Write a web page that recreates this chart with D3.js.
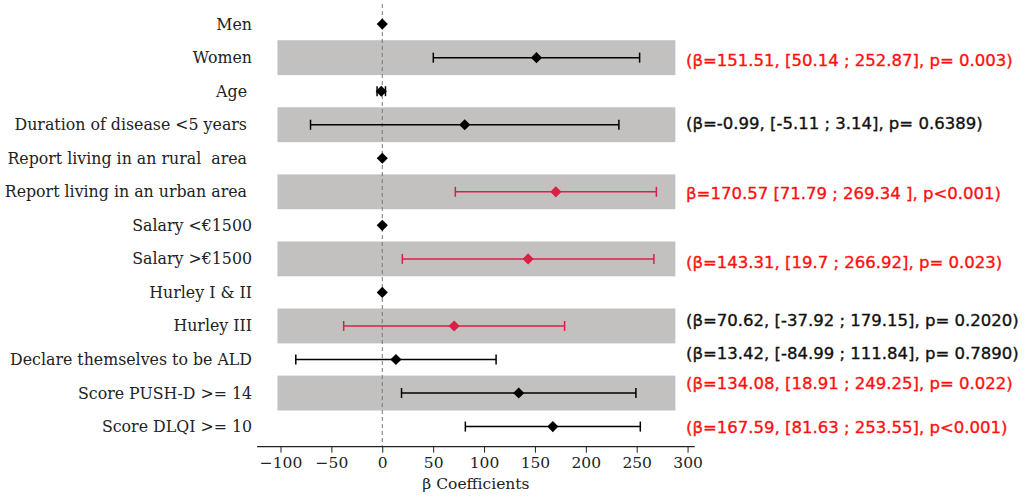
<!DOCTYPE html>
<html><head><meta charset="utf-8">
<script src="https://cdn.jsdelivr.net/npm/d3@7/dist/d3.min.js"></script>
<style>body{margin:0;background:#fff}svg text{white-space:pre}</style>
</head><body>
<svg id="c" width="1024" height="499"></svg>
<script>
const categories = ["Men","Women","Age ","Duration of disease <5 years ","Report living in an rural  area ","Report living in an urban area ","Salary <€1500","Salary >€1500","Hurley I & II","Hurley III","Declare themselves to be ALD","Score PUSH-D >= 14","Score DLQI >= 10"];
const beta  = [0, 151.51, -0.99, 81, 0, 170.57, 0, 143.31, 0, 70.62, 13.42, 134.08, 167.59];
const lower = [null, 50.14, -5.11, -70.5, null, 71.79, null, 19.7, null, -37.92, -84.99, 18.91, 81.63];
const upper = [null, 252.87, 3.14, 232.5, null, 269.34, null, 266.92, null, 179.15, 111.84, 249.25, 253.55];
const highlight = [false,false,false,false,false,true,false,true,false,true,false,false,false];
const bandRows = [1,3,5,7,9,11];
const xTicks = [-100,-50,0,50,100,150,200,250,300];
const annotText = ["(β=151.51, [50.14 ; 252.87], p= 0.003)","(β=-0.99, [-5.11 ; 3.14], p= 0.6389)","β=170.57 [71.79 ; 269.34 ], p<0.001)","(β=143.31, [19.7 ; 266.92], p= 0.023)","(β=70.62, [-37.92 ; 179.15], p= 0.2020)","(β=13.42, [-84.99 ; 111.84], p= 0.7890)","(β=134.08, [18.91 ; 249.25], p= 0.022)","(β=167.59, [81.63 ; 253.55], p<0.001)"];
const annotRow = [1.08, 2.95, 5.03, 7.1, 8.82, 9.81, 10.7, 12.01];
const annotRed = [true,false,true,true,false,false,true,true];

const svg = d3.select("#c");
const x = d3.scaleLinear().domain([-123, 307]).range([257.1, 694.7]);
const y = d3.scaleLinear().domain([-0.6, 12.6]).range([4, 446.7]);
const serif = "DejaVu Serif";

// bands
svg.selectAll("rect.band").data(bandRows).join("rect")
  .attr("x", x(-103)).attr("width", x(288)-x(-103))
  .attr("y", d=>y(d-0.52)).attr("height", d=>y(d+0.52)-y(d-0.52))
  .attr("fill", "#c2c1bf");

// zero line
svg.append("line").attr("x1", x(0)).attr("x2", x(0)).attr("y1", y(-0.6)).attr("y2", y(12.6))
  .attr("stroke", "#777").attr("stroke-width", 1).attr("stroke-dasharray", "4,3");

// error bars
const rows = categories.map((c,i)=>({i, b:beta[i], lo:lower[i], hi:upper[i], hl:highlight[i]}));
const eb = rows.filter(d=>d.lo!==null);
const col = d=>d.hl ? "#dc1f45" : "#000";
const g = svg.append("g");
g.selectAll("line.eb").data(eb).join("line")
  .attr("x1", d=>x(d.lo)).attr("x2", d=>x(d.hi)).attr("y1", d=>y(d.i)).attr("y2", d=>y(d.i))
  .attr("stroke", col).attr("stroke-width", 1.5);
g.selectAll("line.capl").data(eb).join("line")
  .attr("x1", d=>x(d.lo)).attr("x2", d=>x(d.lo)).attr("y1", d=>y(d.i)-5).attr("y2", d=>y(d.i)+5)
  .attr("stroke", col).attr("stroke-width", 1.5);
g.selectAll("line.capr").data(eb).join("line")
  .attr("x1", d=>x(d.hi)).attr("x2", d=>x(d.hi)).attr("y1", d=>y(d.i)-5).attr("y2", d=>y(d.i)+5)
  .attr("stroke", col).attr("stroke-width", 1.5);
g.selectAll("path.pt").data(rows).join("path")
  .attr("d", d3.symbol(d3.symbolSquare, 62))
  .attr("transform", d=>`translate(${x(d.b)},${y(d.i)}) rotate(45)`)
  .attr("fill", col);

// y labels
svg.selectAll("text.yl").data(categories).join("text")
  .attr("x", 252).attr("y", (d,i)=>y(i)).attr("dy", "0.35em")
  .attr("text-anchor", "end").attr("font-family", serif).attr("font-size", 15.8).attr("fill", "#222")
  .text(d=>d);

// x axis
const ax = svg.append("g").attr("transform", `translate(0,${y(12.6)})`)
  .call(d3.axisBottom(x).tickValues(xTicks).tickSize(6).tickPadding(4).tickFormat(d3.format("d")));
ax.select(".domain").attr("stroke", "#222").attr("stroke-width", 1.3).attr("d", `M${x(-123)},0H${x(307)}`);
ax.selectAll(".tick line").attr("stroke", "#222");
ax.selectAll(".tick text").attr("font-family", serif).attr("font-size", 15.5).attr("fill", "#222")
  .text(d=>d<0 ? "−"+Math.abs(d) : d);
svg.append("text").attr("x", (x(-123)+x(307))/2).attr("y", 489).attr("text-anchor", "middle")
  .attr("font-family", serif).attr("font-size", 15.5).attr("fill", "#222").text("β Coefficients");

// annotations
svg.selectAll("text.an").data(annotText).join("text")
  .attr("x", x(298.5)).attr("y", (d,i)=>y(annotRow[i])).attr("dy", "0.36em")
  .attr("font-family", "DejaVu Sans").attr("font-size", 16.5)
  .attr("fill", (d,i)=>annotRed[i] ? "#ff1010" : "#111")
  .attr("stroke", (d,i)=>annotRed[i] ? "#ff1010" : "#111").attr("stroke-width", 0.35)
  .text(d=>d);
</script>
</body></html>
